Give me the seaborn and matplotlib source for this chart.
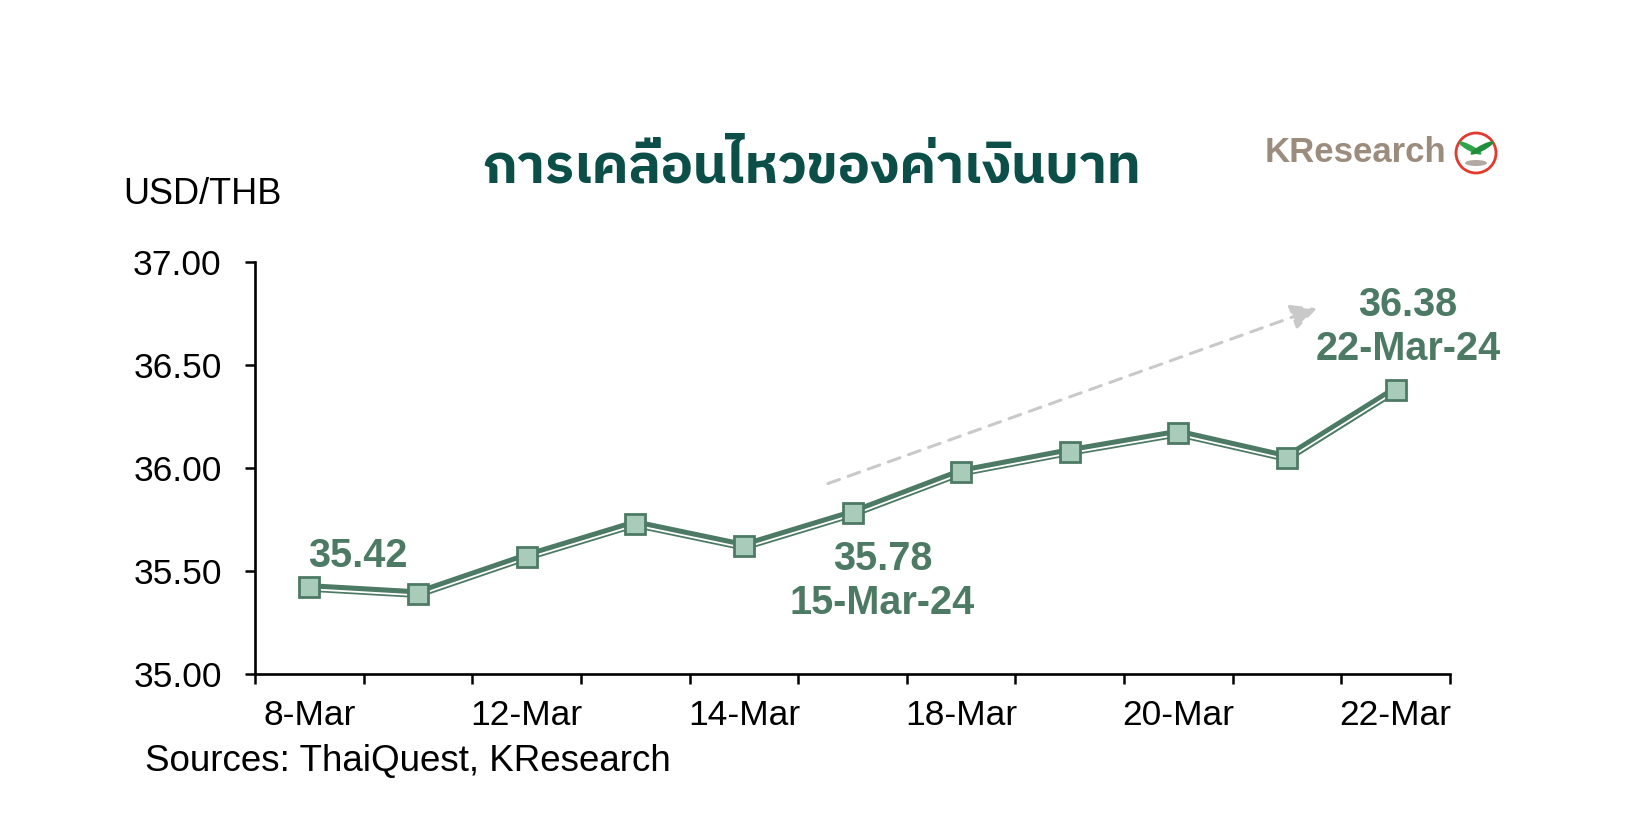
import matplotlib
matplotlib.use("Agg")
import matplotlib.pyplot as plt
import matplotlib.transforms as mtransforms
from matplotlib import font_manager as fm
from matplotlib.ft2font import FT2Font
from matplotlib.patches import Ellipse
import pandas as pd
import seaborn as sns

# datos
fechas = ["8-Mar", "11-Mar", "12-Mar", "13-Mar", "14-Mar", "15-Mar",
          "18-Mar", "19-Mar", "20-Mar", "21-Mar", "22-Mar"]
usd_thb = [35.42, 35.39, 35.57, 35.73, 35.62, 35.78,
           35.98, 36.08, 36.17, 36.05, 36.38]
etiquetas_x = ["8-Mar", "12-Mar", "14-Mar", "18-Mar", "20-Mar", "22-Mar"]
ticks_y = [35.0, 35.5, 36.0, 36.5, 37.0]
titulo = "การเคลื่อนไหวของค่าเงินบาท"

VERDE = "#4d7a64"
RELLENO = "#a9cbb9"
TITULO_COLOR = "#0b4f48"
W, H = 1643, 817


def fuente_thai():
    candidatos = []
    for f in fm.fontManager.ttflist:
        try:
            if ord("ก") in FT2Font(f.fname).get_charmap():
                candidatos.append(f.name)
        except Exception:
            pass
    candidatos.sort(key=lambda n: (0 if "Thai" in n else 1, n))
    return candidatos


sns.set_theme(style="white")
plt.rcParams["font.family"] = ["Liberation Sans", "DejaVu Sans"]
plt.rcParams["text.color"] = "black"
plt.rcParams["xtick.color"] = "black"
plt.rcParams["ytick.color"] = "black"
thai = fuente_thai()
familia_titulo = (thai[:1] if thai else []) + ["DejaVu Sans"]
nombres = {f.name for f in fm.fontManager.ttflist}
angosta = "Liberation Sans Narrow" in nombres

df = pd.DataFrame({"pos": range(len(fechas)), "fecha": fechas, "valor": usd_thb})

fig = plt.figure(figsize=(W / 100, H / 100), dpi=100)
ax = fig.add_axes([255 / W, 1 - 674 / H, (1450 - 255) / W, (674 - 262) / H])

# linea doble estilo Excel
sns.lineplot(data=df, x="pos", y="valor", ax=ax, color=VERDE, linewidth=6.2,
             sort=False, legend=False)
sombra = mtransforms.offset_copy(ax.transData, fig=fig, x=0, y=-1.2, units="points")
ax.plot(df["pos"], df["valor"], color="white", linewidth=1.3, transform=sombra, zorder=3)
ax.plot(df["pos"], df["valor"], linestyle="none", marker="s", markersize=14,
        markerfacecolor=RELLENO, markeredgecolor=VERDE, markeredgewidth=2, zorder=4)

ax.set_xlim(-0.5, len(fechas) - 0.5)
ax.set_ylim(ticks_y[0], ticks_y[-1])
ax.set_yticks(ticks_y)
ax.set_yticklabels([f"{v:.2f}" for v in ticks_y], fontsize=25.5)
ax.set_xticks([i for i, f in enumerate(fechas) if f in etiquetas_x])
ax.set_xticklabels(etiquetas_x, fontsize=25.5)
ax.set_xticks([i - 0.5 for i in range(len(fechas) + 1)], minor=True)
ax.tick_params(axis="x", which="major", length=0, pad=18)
ax.tick_params(axis="x", which="minor", length=7, width=1.8, direction="out", bottom=True)
ax.tick_params(axis="y", length=7, width=1.8, direction="out", left=True, pad=17)
ax.set_xlabel("")
ax.set_ylabel("")
for lado in ["top", "right"]:
    ax.spines[lado].set_visible(False)
for lado in ["left", "bottom"]:
    ax.spines[lado].set_color("black")
    ax.spines[lado].set_linewidth(1.9)

# anotaciones
kw = dict(textcoords="offset points", ha="center", va="center", fontsize=28.5,
          fontweight="bold", color=VERDE, linespacing=1.2)
ax.annotate(f"{usd_thb[0]:.2f}", xy=(0, usd_thb[0]), xytext=(35, 23), **kw)
ax.annotate(f"{usd_thb[5]:.2f}\n15-Mar-24", xy=(5, usd_thb[5]), xytext=(21.5, -49), **kw)
ax.annotate(f"{usd_thb[10]:.2f}\n22-Mar-24", xy=(10, usd_thb[10]), xytext=(9, 45), **kw)

# flecha de tendencia
ax.annotate("", xy=(9.30, 36.78), xytext=(4.75, 35.92),
            arrowprops=dict(arrowstyle="-|>,head_length=1.3,head_width=0.65",
                            color="#c9c9c9", lw=2.2, linestyle=(0, (4, 3))))

# textos
fig.text(812 / W, 1 - 168 / H, titulo, ha="center", va="center", fontsize=39,
         fontweight="bold", color=TITULO_COLOR, family=familia_titulo)
fig.text(123 / W, 1 - 194 / H, "USD/THB", ha="left", va="center", fontsize=26)
fig.text(145 / W, 1 - 762 / H, "Sources: ThaiQuest, KResearch", ha="left", va="center",
         fontsize=26.5)

# logo
if angosta:
    fig.text(1446 / W, 1 - 153 / H, "KResearch", ha="right", va="center", fontsize=30,
             fontweight="bold", color="#9b8c7e", family="Liberation Sans Narrow")
else:
    fig.text(1446 / W, 1 - 153 / H, "KResearch", ha="right", va="center", fontsize=25,
             fontweight="bold", color="#9b8c7e")
cx, cy, r = 1476, 153, 20


def elipse(x, y, w, h, ang=0, **kwargs):
    return Ellipse((x / W, 1 - y / H), w / W, h / H, angle=ang,
                   transform=fig.transFigure, **kwargs)


fig.patches.append(elipse(cx, cy, 2 * r, 2 * r, facecolor="white",
                          edgecolor="#e23b2e", linewidth=2))
fig.patches.append(elipse(cx, cy + 10, 22, 6, facecolor="#b3aba3", edgecolor="none"))
fig.patches.append(elipse(cx - 6, cy - 5, 9, 17, 40, facecolor="#2fa44a", edgecolor="none"))
fig.patches.append(elipse(cx + 6, cy - 5, 9, 17, -40, facecolor="#1f8d3c", edgecolor="none"))

fig.savefig("out.png", dpi=100)
